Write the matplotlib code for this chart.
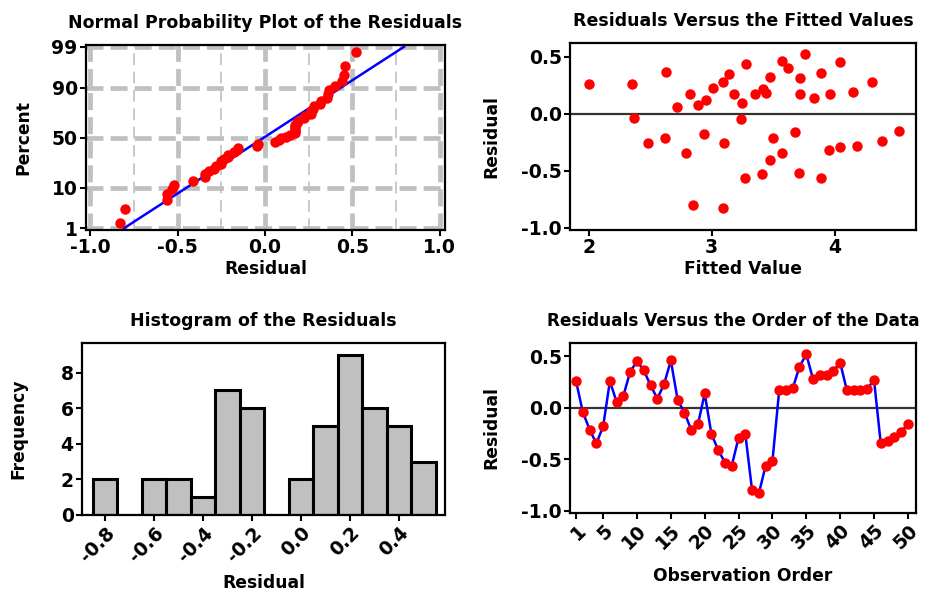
import numpy as np
import matplotlib
matplotlib.use("Agg")
import matplotlib.pyplot as plt
from statistics import NormalDist

# residuals in observation order (1..50)
residuals = [0.26, -0.04, -0.21, -0.345, -0.18, 0.26, 0.055, 0.12, 0.352, 0.452,
             0.365, 0.22, 0.09, 0.23, 0.46, 0.08, -0.045, -0.21, -0.16, 0.14,
             -0.255, -0.41, -0.53, -0.56, -0.29, -0.255, -0.80, -0.83, -0.56, -0.52,
             0.17, 0.17, 0.19, 0.40, 0.52, 0.28, 0.315, 0.32, 0.36, 0.44,
             0.17, 0.17, 0.17, 0.18, 0.275, -0.345, -0.32, -0.28, -0.235, -0.155]
fitted = [2.00, 2.37, 2.62, 2.79, 2.94, 2.35, 2.72, 2.95, 3.14, 4.04,
          2.63, 3.42, 3.25, 3.01, 3.57, 2.89, 3.24, 3.50, 3.68, 3.83,
          2.48, 3.47, 3.41, 3.27, 4.04, 3.10, 2.85, 3.09, 3.89, 3.71,
          2.82, 3.18, 4.15, 3.62, 3.76, 4.30, 3.72, 3.47, 3.89, 3.28,
          3.35, 3.72, 3.96, 3.44, 3.09, 3.57, 3.95, 4.18, 4.38, 4.52]
observation = list(range(1, 51))

hist_edges = [-0.85, -0.75, -0.65, -0.55, -0.45, -0.35, -0.25, -0.15, -0.05,
              0.05, 0.15, 0.25, 0.35, 0.45, 0.55]
hist_ticks = [-0.8, -0.6, -0.4, -0.2, 0.0, 0.2, 0.4]
prob_ticks = [1, 10, 50, 90, 99]
order_ticks = [1, 5, 10, 15, 20, 25, 30, 35, 40, 45, 50]

RED = "#ff0000"
BLUE = "#0000ff"
GRID = "#c0c0c0"

TICK_FS = 13.5
LABEL_FS = 12.3
TITLE_FS = 12.5

plt.rcParams["font.family"] = ["DejaVu Sans"]
plt.rcParams["font.weight"] = "bold"

fig = plt.figure(figsize=(9.32, 5.97), dpi=100)

def style(ax):
    for s in ax.spines.values():
        s.set_linewidth(1.6)
        s.set_color("black")
    ax.tick_params(direction="out", length=4, width=1.5, labelsize=TICK_FS, pad=2)
    for lab in ax.get_xticklabels() + ax.get_yticklabels():
        lab.set_fontweight("bold")

def title(ax, text, x=0.5, fs=TITLE_FS):
    ax.set_title(text, fontsize=fs, fontweight="bold", pad=12, x=x)

# -----------------------------
# Normal probability plot
# -----------------------------
ax1 = fig.add_axes([0.0923, 0.6147, 0.3852, 0.3099])
nd = NormalDist()
r_sorted = np.sort(residuals)
n = len(r_sorted)
pct = [(i - 0.3) / (n + 0.4) for i in range(1, n + 1)]
z = [nd.inv_cdf(p) for p in pct]
mu = np.mean(residuals)
sd = np.std(residuals, ddof=1)
z_lo, z_hi = nd.inv_cdf(0.01), nd.inv_cdf(0.99)

for xv in [-1.0, -0.5, 0.0, 0.5, 1.0]:
    ax1.axvline(xv, color=GRID, lw=3.4, ls=(0, (3.6, 1.5)), zorder=0)
for xv in [-0.75, -0.25, 0.25, 0.75]:
    ax1.axvline(xv, color=GRID, lw=1.2, ls=(0, (7, 4)), zorder=0)
for p in prob_ticks:
    ax1.axhline(nd.inv_cdf(p / 100), color=GRID, lw=3.4, ls=(0, (3.6, 1.5)), zorder=0)

ax1.plot([mu + sd * z_lo, mu + sd * z_hi], [z_lo, z_hi], color=BLUE, lw=1.8, zorder=2)
ax1.plot(r_sorted, z, "o", color=RED, ms=7.5, mec="none", zorder=3)
ax1.set_xlim(-1.025, 1.03)
ax1.set_ylim(z_lo - 0.045, z_hi + 0.045)
ax1.set_xticks([-1.0, -0.5, 0.0, 0.5, 1.0])
ax1.set_xticklabels(["-1.0", "-0.5", "0.0", "0.5", "1.0"])
ax1.set_yticks([nd.inv_cdf(p / 100) for p in prob_ticks])
ax1.set_yticklabels([str(p) for p in prob_ticks])
ax1.set_xlabel("Residual", fontsize=LABEL_FS, fontweight="bold", labelpad=2)
ax1.set_ylabel("Percent", fontsize=LABEL_FS, fontweight="bold", labelpad=14)
title(ax1, "Normal Probability Plot of the Residuals")
style(ax1)

# -----------------------------
# Residuals vs fitted values
# -----------------------------
ax2 = fig.add_axes([0.6116, 0.6147, 0.3712, 0.3132])
ax2.axhline(0, color="#333333", lw=1.6, zorder=1)
ax2.plot(fitted, residuals, "o", color=RED, ms=7.5, mec="none", zorder=3)
ax2.set_xlim(1.848, 4.66)
ax2.set_ylim(-1.02, 0.62)
ax2.set_xticks([2, 3, 4])
ax2.set_yticks([-1.0, -0.5, 0.0, 0.5])
ax2.set_yticklabels(["-1.0", "-0.5", "0.0", "0.5"])
ax2.set_xlabel("Fitted Value", fontsize=LABEL_FS, fontweight="bold", labelpad=2)
ax2.set_ylabel("Residual", fontsize=LABEL_FS, fontweight="bold", labelpad=15)
title(ax2, "Residuals Versus the Fitted Values")
style(ax2)

# -----------------------------
# Histogram
# -----------------------------
ax3 = fig.add_axes([0.088, 0.1374, 0.3895, 0.2881])
ax3.hist(residuals, bins=hist_edges, color="#c0c0c0", edgecolor="black", linewidth=2.2)
ax3.set_xlim(-0.894, 0.588)
ax3.set_ylim(0, 9.66)
ax3.set_xticks(hist_ticks)
ax3.set_xticklabels(["-0.8", "-0.6", "-0.4", "-0.2", "0.0", "0.2", "0.4"],
                    rotation=45, ha="right", rotation_mode="anchor")
ax3.set_yticks([0, 2, 4, 6, 8])
ax3.set_xlabel("Residual", fontsize=LABEL_FS, fontweight="bold", labelpad=6)
ax3.set_ylabel("Frequency", fontsize=LABEL_FS, fontweight="bold", labelpad=24)
title(ax3, "Histogram of the Residuals")
style(ax3)

# -----------------------------
# Residuals vs order
# -----------------------------
ax4 = fig.add_axes([0.6116, 0.1407, 0.3712, 0.2848])
ax4.axhline(0, color="#333333", lw=1.6, zorder=1)
ax4.plot(observation, residuals, "-", color=BLUE, lw=1.8, zorder=2)
ax4.plot(observation, residuals, "o", color=RED, ms=7.5, mec="none", zorder=3)
ax4.set_xlim(0.11, 51.2)
ax4.set_ylim(-1.02, 0.63)
ax4.set_xticks(order_ticks)
ax4.set_xticklabels([str(t) for t in order_ticks], rotation=45, ha="right",
                    rotation_mode="anchor")
ax4.set_yticks([-1.0, -0.5, 0.0, 0.5])
ax4.set_yticklabels(["-1.0", "-0.5", "0.0", "0.5"])
ax4.set_xlabel("Observation Order", fontsize=LABEL_FS, fontweight="bold", labelpad=10)
ax4.set_ylabel("Residual", fontsize=LABEL_FS, fontweight="bold", labelpad=15)
title(ax4, "Residuals Versus the Order of the Data", x=0.472, fs=12.2)
style(ax4)

fig.savefig("out.png", dpi=100, facecolor="white")
